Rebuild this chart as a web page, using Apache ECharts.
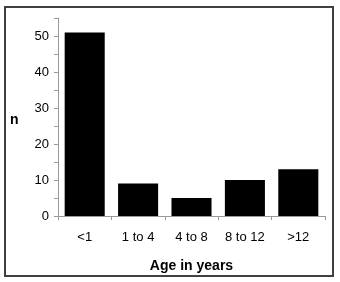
<!DOCTYPE html>
<html><head><meta charset="utf-8">
<script src="https://cdn.jsdelivr.net/npm/echarts@6/dist/echarts.min.js"></script>
<style>html,body{margin:0;padding:0;background:#fff}#c{width:340px;height:282px}</style>
</head><body><div id="c"></div>
<script>
var categories = ['<1', '1 to 4', '4 to 8', '8 to 12', '>12'];
var counts = [51, 9, 5, 10, 13];
var yTicks = [0, 10, 20, 30, 40, 50];

var chart = echarts.init(document.getElementById('c'), null, {renderer: 'canvas'});
var font = 'Liberation Sans, Arial, sans-serif';
chart.setOption({
  animation: false,
  backgroundColor: '#fff',
  grid: {left: 58, right: 15, top: 18, bottom: 66},
  graphic: [{
    type: 'rect', shape: {x: 5, y: 7, width: 328, height: 269},
    style: {fill: 'none', stroke: '#404040', lineWidth: 2}, z: 100
  }, {
    type: 'text', left: 10, top: 113,
    style: {text: 'n', font: 'bold 14px ' + font, fill: '#000'}
  }],
  xAxis: {
    type: 'category', data: categories,
    name: 'Age in years', nameLocation: 'middle', nameGap: 43,
    nameTextStyle: {fontFamily: font, fontWeight: 'bold', fontSize: 14, color: '#000'},
    axisLine: {lineStyle: {color: '#999', width: 1}},
    axisTick: {show: true, alignWithLabel: false, lineStyle: {color: '#999'}, length: 4},
    axisLabel: {fontFamily: font, fontSize: 13, color: '#000', margin: 15}
  },
  yAxis: {
    type: 'value', min: 0, max: 55, interval: 5,
    axisLine: {show: true, lineStyle: {color: '#999', width: 1}},
    axisTick: {show: true, inside: false, length: 4, lineStyle: {color: '#999'}},
    splitLine: {show: false},
    axisLabel: {fontFamily: font, fontSize: 13, color: '#000', margin: 9,
      formatter: function (v) { return yTicks.indexOf(v) >= 0 ? String(v) : ''; }}
  },
  series: [{
    type: 'bar', data: counts, barCategoryGap: '25%',
    itemStyle: {color: '#000'}
  }]
});
</script></body></html>
